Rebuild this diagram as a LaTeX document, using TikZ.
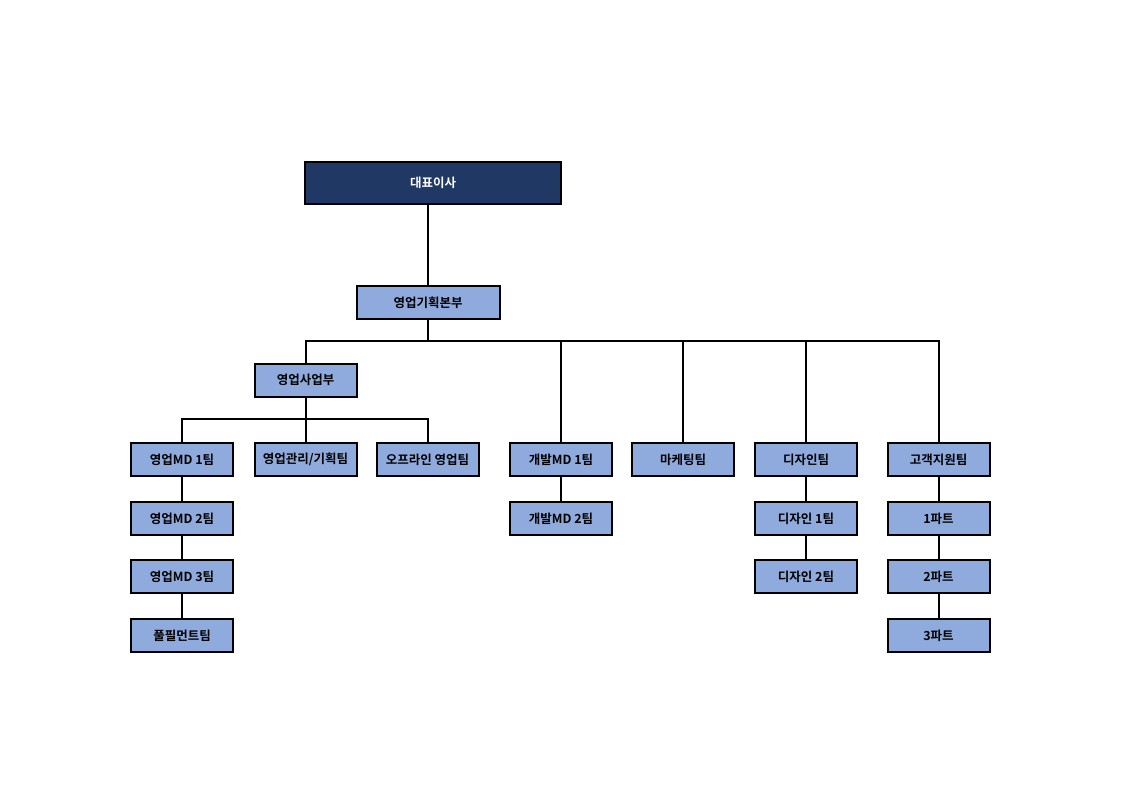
\documentclass[tikz,border=0pt]{standalone}
\usepackage{fontspec}
\setmainfont{Noto Sans CJK KR}[BoldFont={Noto Sans CJK KR Bold}]
\usepackage{xcolor}
\definecolor{navy}{HTML}{203864}
\definecolor{lightblue}{HTML}{8FAADC}

\tikzset{
  unit/.style={draw=black, line width=2pt, fill=lightblue, minimum width=102pt,
    minimum height=33pt, inner sep=0pt, font=\fontsize{12.5}{14}\selectfont\bfseries},
  ceo/.style={unit, fill=navy, text=white, minimum width=256pt, minimum height=42pt},
  link/.style={line width=2pt}
}

\begin{document}
\begin{tikzpicture}[x=1pt,y=-1pt]
\useasboundingbox (0,0) rectangle (1122,793);

\node[ceo] (ceo) at (433,183) {대표이사};
\node[unit, minimum width=143pt] (hq) at (428,302.5) {영업기획본부};
\node[unit] (sales) at (305.5,380) {영업사업부};

\node[unit] (md1) at (182,459.5) {영업MD 1팀};
\node[unit] (mgmt) at (305.5,459.5) {영업관리/기획팀};
\node[unit] (offline) at (427.5,459.5) {오프라인 영업팀};
\node[unit] (dev1) at (561,459.5) {개발MD 1팀};
\node[unit] (mkt) at (683,459.5) {마케팅팀};
\node[unit] (design) at (806,459.5) {디자인팀};
\node[unit] (cs) at (938.5,459.5) {고객지원팀};

\node[unit] (md2) at (182,518.5) {영업MD 2팀};
\node[unit] (md3) at (182,576.5) {영업MD 3팀};
\node[unit] (fulfil) at (182,635.5) {풀필먼트팀};
\node[unit] (dev2) at (561,518.5) {개발MD 2팀};
\node[unit] (design1) at (806,518.5) {디자인 1팀};
\node[unit] (design2) at (806,576.5) {디자인 2팀};
\node[unit] (part1) at (938.5,518.5) {1파트};
\node[unit] (part2) at (938.5,576.5) {2파트};
\node[unit] (part3) at (938.5,635.5) {3파트};

\coordinate (bus) at (428,341);
\coordinate (subbus) at (305.5,419);

\draw[link] (hq.north) -- (hq.north |- ceo.south);
\draw[link] (hq.south) -- (bus);
\draw[link] (sales.north) |- (bus) -| (cs.north);
\draw[link] (bus) -| (dev1.north);
\draw[link] (bus) -| (mkt.north);
\draw[link] (bus) -| (design.north);
\draw[link] (sales.south) -- (subbus);
\draw[link] (md1.north) |- (subbus) -| (offline.north);
\draw[link] (subbus) -- (mgmt.north);

\draw[link] (md1) -- (md2);
\draw[link] (md2) -- (md3);
\draw[link] (md3) -- (fulfil);
\draw[link] (dev1) -- (dev2);
\draw[link] (design) -- (design1);
\draw[link] (design1) -- (design2);
\draw[link] (cs) -- (part1);
\draw[link] (part1) -- (part2);
\draw[link] (part2) -- (part3);

\end{tikzpicture}
\end{document}
